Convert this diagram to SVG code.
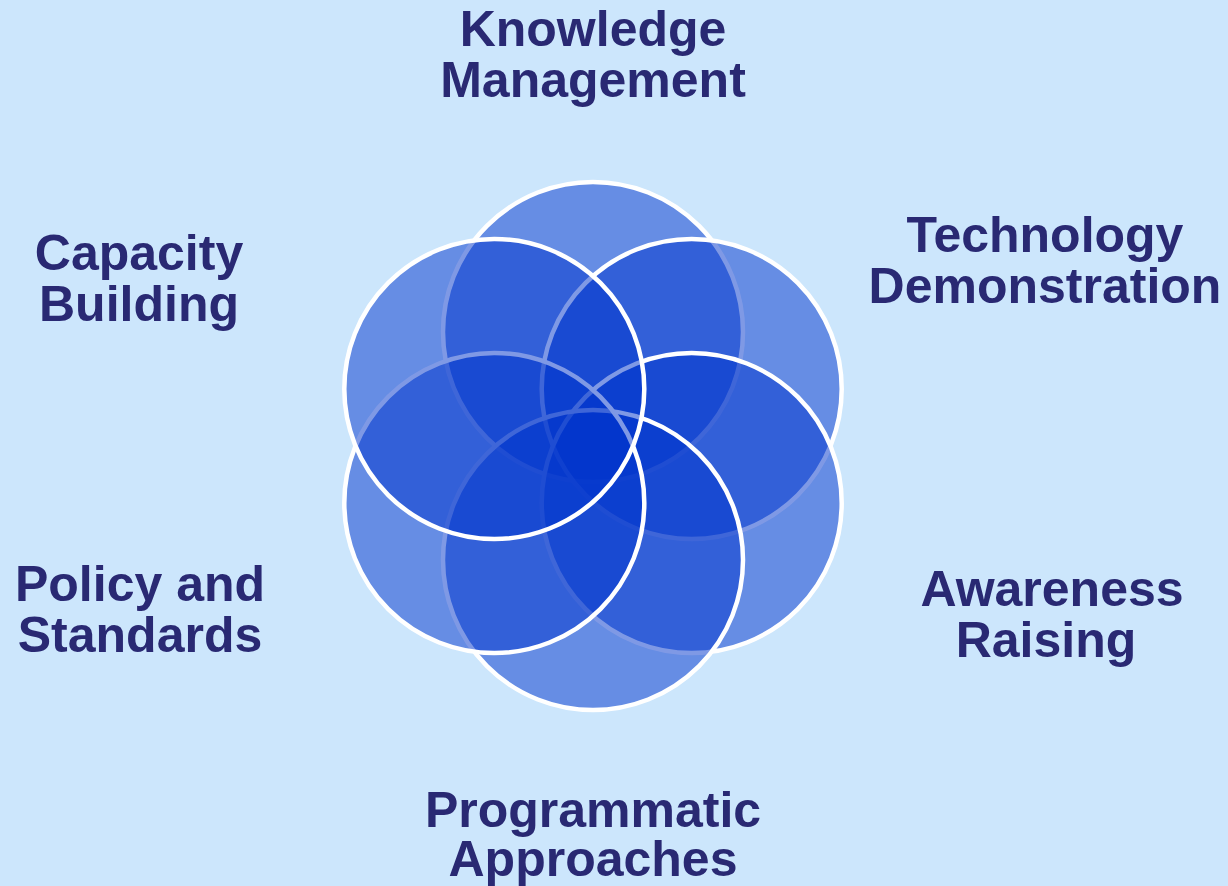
<svg xmlns="http://www.w3.org/2000/svg" width="1228" height="886" viewBox="0 0 1228 886">
  <style>
    .petal { fill: #0033cc; fill-opacity: 0.5; stroke: #ffffff; stroke-width: 4.5; }
    .lbl { font-family: "Liberation Sans", Arial, sans-serif; font-weight: bold; font-size: 50px; fill: #292973; text-anchor: middle; }
  </style>
  <rect x="0" y="0" width="1228" height="886" fill="#cce6fc"/>
  <g id="circles">
    <circle id="c-top" class="petal" cx="593" cy="332" r="150"/>
    <circle id="c-upper-right" class="petal" cx="691.7" cy="389" r="150"/>
    <circle id="c-lower-right" class="petal" cx="691.7" cy="503" r="150"/>
    <circle id="c-bottom" class="petal" cx="593" cy="560" r="150"/>
    <circle id="c-lower-left" class="petal" cx="494.3" cy="503" r="150"/>
    <circle id="c-upper-left" class="petal" cx="494.3" cy="389" r="150"/>
  </g>
  <g id="connectors"></g>
  <g id="label-knowledge">
    <text class="lbl" x="593" y="46">Knowledge</text>
    <text class="lbl" x="593" y="97">Management</text>
  </g>
  <g id="label-technology">
    <text class="lbl" x="1045" y="252">Technology</text>
    <text class="lbl" x="1045" y="303">Demonstration</text>
  </g>
  <g id="label-capacity">
    <text class="lbl" x="139" y="270">Capacity</text>
    <text class="lbl" x="139" y="321">Building</text>
  </g>
  <g id="label-policy">
    <text class="lbl" x="140" y="601">Policy and</text>
    <text class="lbl" x="140" y="652">Standards</text>
  </g>
  <g id="label-awareness">
    <text class="lbl" x="1052" y="606">Awareness</text>
    <text class="lbl" x="1046" y="657">Raising</text>
  </g>
  <g id="label-programmatic">
    <text class="lbl" x="593" y="827">Programmatic</text>
    <text class="lbl" x="593" y="876">Approaches</text>
  </g>
</svg>
